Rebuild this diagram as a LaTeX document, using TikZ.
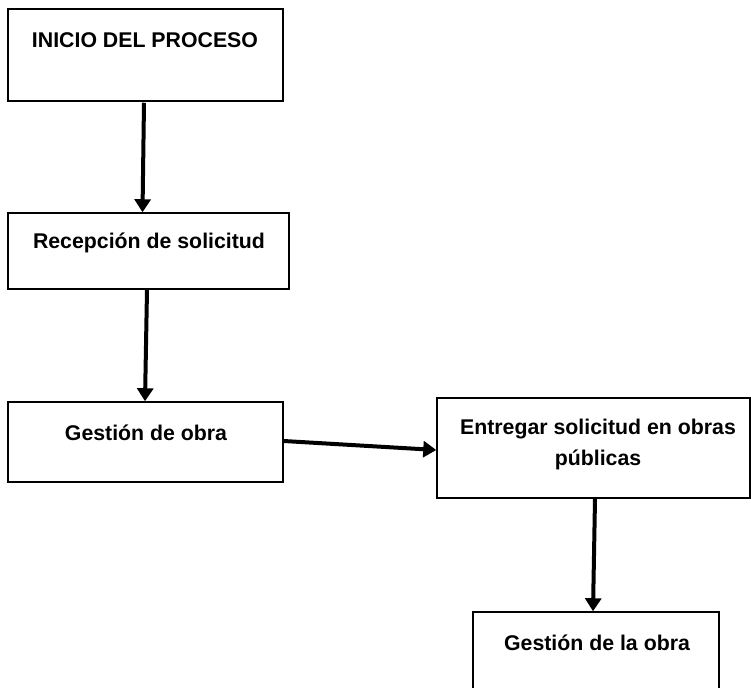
\documentclass[tikz,border=0pt]{standalone}
\usepackage{fontspec}
\setmainfont{Liberation Sans}
\usetikzlibrary{arrows.meta,calc}
\begin{document}
\begin{tikzpicture}[x=1pt,y=-1pt,
  box/.style={draw=black,line width=1.5pt,rectangle,inner sep=0pt,fill=white},
  txt/.style={font=\fontsize{21.3}{31}\selectfont\bfseries,inner sep=0pt,align=center},
  arr/.style={line width=4pt,-{Triangle[width=16pt,length=13pt]}}]
\useasboundingbox (0,0) rectangle (751,687);
\clip (0,0) rectangle (751,687);
\fill[white] (0,0) rectangle (751,687);
\node[box,minimum width=275pt,minimum height=92pt] (b1) at (145.5,55) {};
\node[box,minimum width=281pt,minimum height=76pt] (b2) at (148.5,251) {};
\node[box,minimum width=275pt,minimum height=80pt] (b3) at (145.5,442) {};
\node[box,minimum width=313pt,minimum height=100pt] (b4) at (593.5,448) {};
\node[box,minimum width=246pt,minimum height=100pt] (b5) at (596,662) {};
\node[txt] (t1) at (145,40) {INICIO DEL PROCESO};
\node[txt] (t2) at (149,243) {Recepción de solicitud};
\node[txt] (t3) at (146,433) {Gestión de obra};
\node[txt] (t4) at (598,444.5) {Entregar solicitud en obras\\públicas};
\node[txt] (t5) at (597,643) {Gestión de la obra};
\draw[arr] ($(b1.south)+(-1.5,1)$) -- ($(b2.north)+(-6,0)$);
\draw[arr] ($(b2.south)+(-1.5,0)$) -- ($(b3.north)+(-0.5,0)$);
\draw[arr] ($(b3.east)+(0,-1)$) -- ($(b4.west)+(0,2)$);
\draw[arr] ($(b4.south)+(1.5,0)$) -- ($(b5.north)+(-3,0)$);
\end{tikzpicture}
\end{document}
